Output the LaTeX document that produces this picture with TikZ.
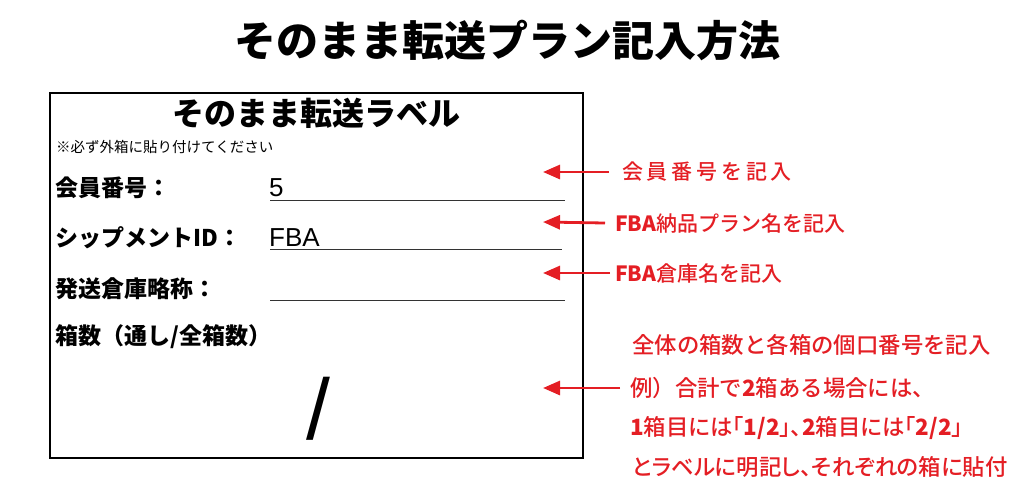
\documentclass[tikz,border=0pt]{standalone}
\usepackage{fontspec}
\setmainfont{Noto Sans CJK JP}
\newfontfamily\medium{Noto Sans CJK JP Medium}
\newfontfamily\arialike{Liberation Sans}
\usepackage{xcolor}
\usetikzlibrary{arrows.meta, positioning}
\definecolor{markred}{RGB}{228,30,36}
\newcommand{\fs}[1]{\fontsize{#1}{#1}\selectfont}
\newcommand{\prop}{\addfontfeature{RawFeature=+palt}}

\begin{document}
\begin{tikzpicture}[x=1pt, y=-1pt,
    field/.style={font=\fs{23}\bfseries, anchor=west, inner sep=0pt},
    entry/.style={font=\arialike\fs{26}, anchor=west, inner sep=0pt},
    note/.style={font=\medium\fs{21}, text=markred, anchor=west, inner sep=0pt},
    howto/.style={font=\medium\fs{22.4}, text=markred, anchor=west, inner sep=0pt},
    fill line/.style={black!80, thin},
    pointer/.style={markred, line width=2.8pt, -{Triangle[length=17pt, width=14pt]}}]
    \useasboundingbox (0,0) rectangle (1024,499);

    \node (title) [font=\fs{42}\bfseries, inner sep=0pt] at (507,40) {そのまま転送プラン記入方法};

    \draw[line width=1.8pt] (50,93) rectangle (583,458);
    \node (label) [font=\fs{32}\bfseries, inner sep=0pt] at (316,113) {そのまま転送ラベル};
    \node (caution) [font=\fs{14.5}, anchor=west, inner sep=0pt] at (56,147) {※必ず外箱に貼り付けてください};

    \node (member) [field] at (55,188) {会員番号：};
    \node (shipment) [field] at (55,238) {シップメントID：};
    \node (depot) [field] at (55,289) {発送倉庫略称：};
    \node (boxes) [field] at (55,337) {箱数（通し/全箱数）};

    \node (member val) [entry] at (269,188) {5};
    \node (shipment val) [entry] at (269,238) {FBA};
    \node (slash) [font=\arialike\fs{86}, inner sep=0pt] at (318,409) {/};

    \draw[fill line] (270,200) -- (565,200);
    \draw[fill line] (270,249) -- (562,249);
    \draw[fill line] (270,300) -- (565,300);

    \node (note member) [note] at (622,172) {\addfontfeature{LetterSpace=18}会員番号を記入};
    \node (note plan) [note] at (615,223) {{\bfseries FBA}納品プラン名を記入};
    \node (note depot) [note] at (615,273) {{\bfseries FBA}倉庫名を記入};

    \node (howto 1) [howto] at (632,345) {全体の箱数と各箱の個口番号を記入};
    \node (howto 2) [howto] at (630,388) {例）合計で{\bfseries 2}箱ある場合には、};
    \node (howto 3) [howto] at (630,428) {\prop{\bfseries 1}箱目には「{\bfseries 1/2}」、{\bfseries 2}箱目には「{\bfseries 2/2}」};
    \node (howto 4) [howto] at (632,467) {\prop とラベルに明記し、それぞれの箱に貼付};

    \coordinate (tip member) at (543,172);
    \coordinate (tip plan) at (543,222);
    \coordinate (tip depot) at (543,273);
    \coordinate (tip boxes) at (543,388);

    \draw[pointer] (note member.west -| 609,0) -- (tip member);
    \draw[pointer] (note plan.west -| 605,0) -- (tip plan);
    \draw[pointer] (note depot.west -| 610,0) -- (tip depot);
    \draw[pointer] (howto 2.west -| 620,0) -- (tip boxes);

\end{tikzpicture}
\end{document}
